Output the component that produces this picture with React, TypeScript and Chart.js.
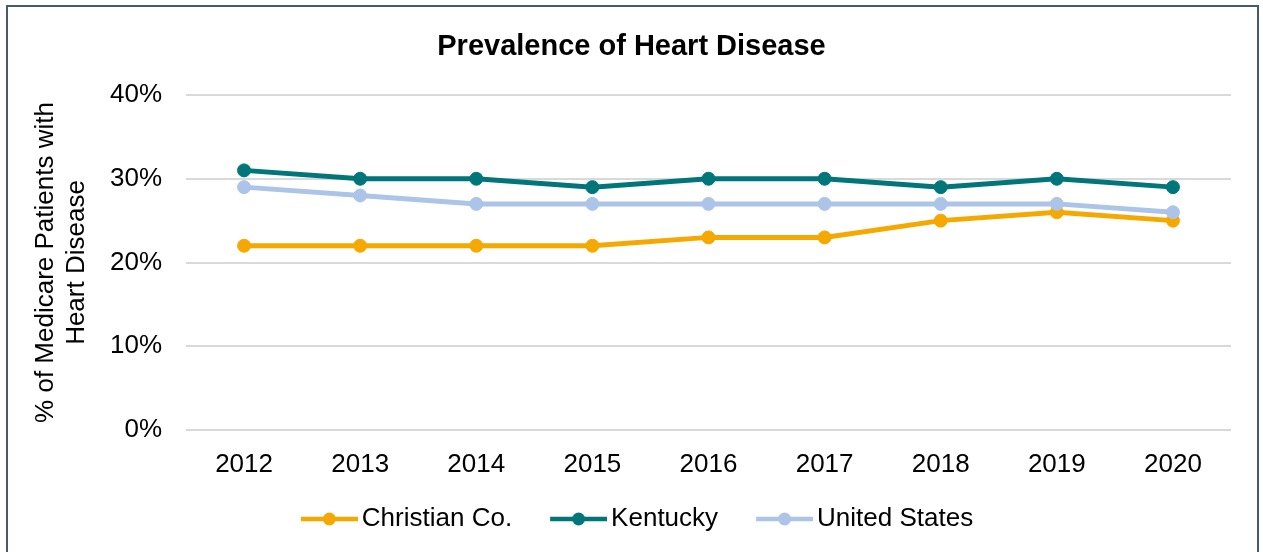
import React, { useEffect, useRef } from "react";
import { Chart, registerables } from "chart.js";

Chart.register(...registerables);

const chartTitle = "Prevalence of Heart Disease";
const yAxisTitle = ["% of Medicare Patients with", "Heart Disease"];
const years = ["2012", "2013", "2014", "2015", "2016", "2017", "2018", "2019", "2020"];
const seriesNames = ["Christian Co.", "Kentucky", "United States"];
const christianCo = [22, 22, 22, 22, 23, 23, 25, 26, 25];
const kentucky = [31, 30, 30, 29, 30, 30, 29, 30, 29];
const unitedStates = [29, 28, 27, 27, 27, 27, 27, 27, 26];
const seriesColors = ["#F5A800", "#00767A", "#ABC4E7"];
const yMin = 0;
const yMax = 40;
const yStep = 10;

// legend swatch: line with a dot, drawn on the right part of a symmetric image
function legendSwatch(color: string): HTMLCanvasElement {
  const c = document.createElement("canvas");
  c.width = 77;
  c.height = 16;
  const ctx = c.getContext("2d")!;
  ctx.strokeStyle = color;
  ctx.lineWidth = 4.5;
  ctx.beginPath();
  ctx.moveTo(20, 8);
  ctx.lineTo(77, 8);
  ctx.stroke();
  ctx.fillStyle = color;
  ctx.beginPath();
  ctx.arc(48.5, 8, 6.5, 0, Math.PI * 2);
  ctx.fill();
  return c;
}

export default function App() {
  const ref = useRef<HTMLCanvasElement | null>(null);

  useEffect(() => {
    if (!ref.current) return;
    Chart.defaults.font.family = "'Liberation Sans', Arial, sans-serif";
    Chart.defaults.color = "#000";
    const swatches = seriesColors.map(legendSwatch);
    const seriesData = [christianCo, kentucky, unitedStates];
    const orders = [3, 2, 1];

    const chart = new Chart(ref.current, {
      type: "line",
      data: {
        labels: years,
        datasets: seriesNames.map((name, i) => ({
          label: name,
          data: seriesData[i],
          borderColor: seriesColors[i],
          backgroundColor: seriesColors[i],
          pointBackgroundColor: seriesColors[i],
          pointBorderColor: seriesColors[i],
          borderWidth: 5,
          pointRadius: 6.5,
          pointBorderWidth: 1,
          tension: 0,
          fill: false,
          order: orders[i],
          yAxisID: "y",
        })),
      },
      options: {
        responsive: false,
        animation: false,
        devicePixelRatio: 1,
        layout: { padding: { top: 0, left: 0, right: 0, bottom: 10 } },
        plugins: {
          title: {
            display: true,
            text: chartTitle,
            color: "#000",
            font: { size: 29, weight: "bold", lineHeight: 1.2 },
            padding: { top: 29.6, bottom: 30.6 },
          },
          legend: {
            position: "bottom",
            labels: {
              usePointStyle: true,
              pointStyleWidth: 59,
              padding: 27,
              color: "#000",
              font: { size: 26 },
              sort: (a: any, b: any) => a.datasetIndex - b.datasetIndex,
              generateLabels: (c: any) => {
                const items = (Chart.defaults.plugins.legend.labels as any).generateLabels(c);
                items.forEach((it: any) => {
                  it.pointStyle = swatches[it.datasetIndex];
                });
                return items;
              },
            },
          },
          tooltip: { enabled: false },
        },
        scales: {
          x: {
            type: "category",
            offset: true,
            grid: { display: false },
            border: { display: false },
            ticks: {
              color: "#000",
              font: { size: 26, lineHeight: 1.2 },
              padding: 11,
              maxRotation: 0,
              autoSkip: false,
            },
            afterFit: (s: any) => {
              s.height = 49;
            },
          },
          y: {
            type: "linear",
            position: "left",
            min: yMin,
            max: yMax,
            ticks: {
              stepSize: yStep,
              color: "#000",
              font: { size: 26 },
              padding: 24,
              callback: (v: any) => v + "%",
            },
            grid: { color: "#D9D9D9", lineWidth: 2, drawTicks: false },
            border: { display: false },
            title: {
              display: true,
              text: yAxisTitle,
              color: "#000",
              font: { size: 26, lineHeight: 1.2 },
              padding: { top: 30, bottom: 0 },
            },
            afterFit: (s: any) => {
              s.width = 186;
            },
          },
          y2: {
            type: "linear",
            position: "right",
            display: true,
            grid: { display: false },
            border: { display: false },
            ticks: { display: false },
            afterFit: (s: any) => {
              s.width = 32;
            },
          },
        },
      } as any,
    });
    return () => chart.destroy();
  }, []);

  return (
    <div style={{ position: "absolute", left: 0, top: 0, width: 1263, height: 552, background: "#fff", overflow: "hidden" }}>
      <canvas ref={ref} width={1263} height={552} style={{ position: "absolute", left: 0, top: 0, width: 1263, height: 552 }} />
      <div
        style={{
          position: "absolute",
          left: 6,
          top: 5,
          width: 1253,
          height: 547,
          boxSizing: "border-box",
          borderTop: "2px solid #4A5870",
          borderLeft: "2px solid #4A5870",
          borderRight: "2px solid #4A5870",
          pointerEvents: "none",
        }}
      />
    </div>
  );
}
